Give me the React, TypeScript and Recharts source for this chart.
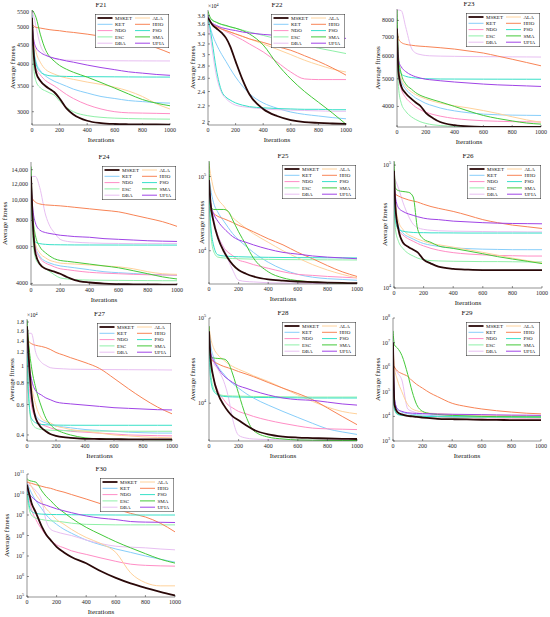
import React from "react";
import { LineChart, Line, XAxis, YAxis, Legend, Label } from "recharts";

const FONT = "Liberation Serif";
const AXIS = "#262626";

// iteration samples shared by every panel
const ITER = [0, 10, 30, 60, 100, 130, 160, 200, 250, 300, 400, 500, 600, 700, 800, 900, 1000];
const X_TICKS = [0, 200, 400, 600, 800, 1000];

const ALGOS = [
  { key: "MSKET", color: "#2a0808", width: 1.8 },
  { key: "KET", color: "#87cefa", width: 1 },
  { key: "NDO", color: "#ff8ec6", width: 1 },
  { key: "ESC", color: "#90f0a8", width: 1 },
  { key: "DBA", color: "#e8bff2", width: 1 },
  { key: "ALA", color: "#ffd29b", width: 1 },
  { key: "HHO", color: "#f88456", width: 1 },
  { key: "PSO", color: "#38e0c8", width: 1 },
  { key: "SMA", color: "#44c93a", width: 1 },
  { key: "UFIA", color: "#a044e6", width: 1 },
];

const F21 = {
  MSKET: [5300, 4400, 3800, 3620, 3500, 3440, 3380, 3250, 3060, 2950, 2840, 2800, 2785, 2780, 2778, 2776, 2775],
  KET: [5400, 4500, 4050, 3850, 3720, 3660, 3610, 3560, 3500, 3440, 3360, 3290, 3250, 3210, 3190, 3170, 3160],
  NDO: [5300, 4300, 3900, 3750, 3620, 3560, 3510, 3430, 3330, 3250, 3130, 3050, 3000, 2980, 2975, 2970, 2965],
  ESC: [5200, 4000, 3600, 3470, 3400, 3360, 3320, 3200, 3080, 3000, 2930, 2900, 2885, 2878, 2873, 2870, 2868],
  DBA: [5500, 5400, 5000, 4500, 4250, 4180, 4140, 4110, 4100, 4095, 4090, 4088, 4085, 4083, 4082, 4081, 4080],
  ALA: [5300, 4700, 4300, 4050, 3870, 3810, 3770, 3720, 3680, 3650, 3590, 3540, 3480, 3400, 3290, 3150, 3050],
  HHO: [5100, 5050, 5000, 4980, 4950, 4930, 4915, 4900, 4870, 4850, 4800, 4740, 4680, 4610, 4530, 4420, 4280],
  PSO: [5200, 4500, 4000, 3820, 3750, 3730, 3722, 3720, 3715, 3712, 3710, 3708, 3706, 3704, 3702, 3701, 3700],
  SMA: [5560, 5500, 5300, 4800, 4350, 4180, 4080, 3970, 3880, 3810, 3700, 3580, 3460, 3340, 3230, 3160, 3110],
  UFIA: [5300, 4700, 4420, 4300, 4220, 4180, 4150, 4120, 4080, 4050, 3980, 3920, 3870, 3820, 3790, 3760, 3740],
};

const F22 = {
  MSKET: [37500, 37000, 36000, 35200, 34200, 33200, 31600, 28800, 25800, 23600, 21600, 20700, 20200, 19950, 19850, 19780, 19720],
  KET: [37000, 36000, 34000, 32000, 30000, 28800, 27600, 26200, 24800, 23700, 22400, 21700, 21200, 20900, 20700, 20500, 20350],
  NDO: [37000, 36500, 36000, 35500, 35000, 34500, 34100, 33500, 32800, 32000, 30500, 28700, 27000, 25900, 25800, 25800, 25800],
  ESC: [38000, 37500, 37000, 36500, 36000, 35700, 35500, 35200, 34800, 34400, 33700, 33000, 32400, 31800, 31200, 30700, 30200],
  DBA: [37000, 35000, 31000, 26500, 23800, 23000, 22500, 22100, 21900, 21800, 21600, 21500, 21450, 21400, 21350, 21300, 21300],
  ALA: [37000, 36500, 36000, 35500, 35000, 34700, 34400, 34000, 33500, 33000, 32000, 31000, 30000, 29000, 28200, 27500, 27000],
  HHO: [37500, 37000, 36200, 35600, 35000, 34700, 34400, 34000, 33500, 33000, 32300, 31500, 30800, 29800, 28800, 27700, 26500],
  PSO: [37500, 36000, 32500, 27500, 24000, 23200, 22800, 22400, 22100, 21900, 21750, 21650, 21600, 21550, 21550, 21500, 21500],
  SMA: [39000, 38000, 37000, 36500, 36000, 35800, 35500, 35200, 34700, 34000, 31800, 28400, 25900, 24000, 22500, 21100, 19700],
  UFIA: [38000, 37000, 36300, 35800, 35300, 35100, 34900, 34700, 34400, 34200, 33900, 33700, 33500, 33400, 33300, 33200, 33100],
};

const F23 = {
  MSKET: [7500, 5300, 4700, 4450, 4250, 4130, 4030, 3800, 3640, 3530, 3440, 3405, 3395, 3392, 3390, 3390, 3390],
  KET: [7000, 5400, 4900, 4600, 4400, 4280, 4200, 4100, 4020, 3950, 3860, 3800, 3760, 3740, 3730, 3725, 3720],
  NDO: [7000, 5100, 4600, 4300, 4100, 3980, 3900, 3820, 3750, 3700, 3630, 3590, 3565, 3550, 3540, 3535, 3530],
  ESC: [6500, 4700, 4100, 3850, 3680, 3600, 3540, 3490, 3450, 3430, 3410, 3400, 3395, 3393, 3392, 3391, 3390],
  DBA: [8700, 8700, 8650, 7600, 6400, 6150, 6080, 6030, 6010, 6000, 5990, 5980, 5975, 5970, 5965, 5960, 5955],
  ALA: [7000, 5500, 5000, 4700, 4500, 4400, 4330, 4250, 4170, 4110, 4020, 3950, 3870, 3780, 3680, 3590, 3520],
  HHO: [7600, 6900, 6700, 6600, 6550, 6520, 6500, 6480, 6450, 6420, 6350, 6250, 6150, 6000, 5850, 5700, 5550],
  PSO: [7000, 5600, 5200, 5100, 5050, 5030, 5015, 5000, 4995, 4990, 4988, 4986, 4984, 4983, 4982, 4981, 4980],
  SMA: [8700, 6000, 5200, 4800, 4600, 4470, 4380, 4300, 4220, 4150, 4000, 3850, 3720, 3630, 3560, 3500, 3470],
  UFIA: [7500, 5800, 5500, 5300, 5150, 5080, 5030, 4980, 4950, 4920, 4870, 4830, 4790, 4760, 4740, 4720, 4700],
};

const F24 = {
  MSKET: [13000, 8500, 5600, 4950, 4700, 4620, 4550, 4450, 4280, 4150, 4040, 3990, 3970, 3960, 3955, 3950, 3950],
  KET: [12000, 8000, 6000, 5400, 5100, 5000, 4920, 4850, 4800, 4750, 4650, 4550, 4500, 4460, 4420, 4400, 4380],
  NDO: [12000, 7800, 5900, 5300, 5000, 4900, 4800, 4700, 4650, 4600, 4520, 4480, 4450, 4420, 4400, 4390, 4380],
  ESC: [11000, 7000, 5300, 4900, 4700, 4550, 4400, 4250, 4200, 4170, 4150, 4140, 4135, 4130, 4125, 4120, 4120],
  DBA: [13000, 13000, 13000, 11500, 8500, 7500, 7000, 6500, 6350, 6300, 6250, 6220, 6210, 6200, 6200, 6200, 6200],
  ALA: [12000, 8500, 6200, 5600, 5300, 5150, 5080, 5000, 4970, 4950, 4900, 4850, 4800, 4700, 4550, 4450, 4420],
  HHO: [11000, 10200, 9800, 9600, 9500, 9470, 9440, 9400, 9330, 9250, 9100, 8950, 8800, 8500, 8200, 7900, 7500],
  PSO: [12000, 8000, 6300, 6200, 6150, 6130, 6125, 6120, 6115, 6110, 6108, 6106, 6104, 6103, 6102, 6101, 6100],
  SMA: [14500, 9000, 6800, 6000, 5600, 5400, 5250, 5150, 5100, 5050, 4950, 4850, 4750, 4600, 4450, 4300, 4200],
  UFIA: [13000, 9500, 7800, 7200, 7000, 6930, 6870, 6800, 6750, 6700, 6650, 6550, 6500, 6450, 6400, 6370, 6350],
};

const F25 = {
  MSKET: [90000, 45000, 25000, 15000, 9800, 7800, 6500, 5500, 4900, 4500, 4100, 3950, 3850, 3780, 3720, 3680, 3650],
  KET: [100000, 70000, 45000, 33000, 25000, 20500, 17000, 14000, 11500, 9500, 7000, 5600, 4800, 4400, 4200, 4100, 4000],
  NDO: [80000, 40000, 25000, 16000, 11000, 9500, 8600, 7500, 7000, 6500, 5800, 5200, 4800, 4650, 4500, 4400, 4300],
  ESC: [60000, 20000, 10000, 8200, 8000, 7900, 7850, 7800, 7750, 7700, 7650, 7600, 7580, 7560, 7540, 7520, 7500],
  DBA: [100000, 50000, 28000, 16000, 11000, 7500, 5500, 4000, 3850, 3800, 3700, 3670, 3650, 3630, 3620, 3610, 3600],
  ALA: [150000, 110000, 70000, 50000, 40000, 33000, 28000, 24000, 20000, 17000, 13000, 10000, 8000, 6500, 5500, 4800, 4300],
  HHO: [40000, 35000, 32000, 29000, 27000, 25500, 24000, 22000, 20000, 18000, 14500, 12000, 9500, 7800, 6300, 5200, 4500],
  PSO: [70000, 25000, 12000, 8800, 8500, 8400, 8350, 8300, 8250, 8200, 8150, 8100, 8080, 8060, 8040, 8020, 8000],
  SMA: [160000, 40000, 36000, 36000, 36000, 34000, 26000, 18000, 12000, 8000, 5200, 4300, 3950, 3800, 3700, 3650, 3600],
  UFIA: [90000, 45000, 32000, 25000, 20000, 17500, 15500, 14000, 13000, 12000, 10500, 9500, 9000, 8500, 8200, 8000, 7800],
};

const F26 = {
  MSKET: [90000, 45000, 30000, 23500, 21500, 20500, 19500, 17000, 15800, 14900, 14300, 14100, 14000, 14000, 14000, 14000, 14000],
  KET: [80000, 45000, 32000, 28000, 26000, 25000, 24000, 23000, 22300, 21800, 21200, 20900, 20700, 20600, 20500, 20500, 20500],
  NDO: [70000, 40000, 30000, 27000, 25000, 24000, 23000, 22000, 21000, 20300, 19400, 18900, 18600, 18400, 18300, 18200, 18200],
  ESC: [50000, 30000, 24000, 21000, 19000, 18200, 17500, 17000, 16700, 16600, 16500, 16450, 16400, 16400, 16350, 16300, 16300],
  DBA: [80000, 75000, 65000, 50000, 38000, 33000, 31000, 30000, 29500, 29200, 29000, 28900, 28800, 28700, 28700, 28600, 28600],
  ALA: [80000, 50000, 35000, 30000, 27000, 26000, 25000, 24000, 23000, 22500, 21500, 20500, 19500, 18500, 17500, 16700, 16000],
  HHO: [60000, 58000, 56000, 54000, 52000, 51000, 50000, 48000, 46000, 44500, 42000, 39000, 36000, 34000, 32500, 31500, 30500],
  PSO: [70000, 35000, 30000, 29000, 28500, 28300, 28200, 28200, 28100, 28100, 28050, 28000, 28000, 28000, 28000, 28000, 28000],
  SMA: [107000, 65000, 62000, 61000, 60000, 55000, 30000, 25000, 23500, 22000, 21000, 20000, 19000, 18000, 17200, 16500, 15800],
  UFIA: [80000, 55000, 45000, 42000, 40000, 39000, 38000, 37000, 36300, 36000, 35000, 34500, 34000, 33700, 33500, 33400, 33300],
};

const F27 = {
  MSKET: [17000, 12000, 7000, 5000, 4400, 4200, 4050, 3950, 3880, 3850, 3800, 3790, 3780, 3775, 3770, 3770, 3770],
  KET: [16000, 10000, 6500, 5200, 4800, 4700, 4600, 4500, 4450, 4400, 4300, 4250, 4200, 4150, 4120, 4100, 4100],
  NDO: [16000, 9500, 6000, 5000, 4600, 4500, 4400, 4300, 4250, 4200, 4150, 4100, 4050, 4000, 3980, 3960, 3950],
  ESC: [15000, 7000, 4800, 4400, 4300, 4280, 4260, 4250, 4240, 4230, 4220, 4210, 4205, 4200, 4200, 4200, 4200],
  DBA: [15500, 15500, 15500, 12000, 10500, 10100, 9800, 9700, 9650, 9600, 9580, 9560, 9550, 9540, 9530, 9520, 9500],
  ALA: [17000, 12000, 8000, 6000, 5000, 4800, 4700, 4500, 4400, 4300, 4200, 4100, 4000, 3950, 3900, 3870, 3850],
  HHO: [15000, 14000, 13500, 13200, 13000, 12800, 12500, 12000, 11600, 11200, 10500, 9700, 8500, 7400, 6500, 5800, 5300],
  PSO: [15000, 7000, 5000, 4700, 4600, 4580, 4570, 4560, 4555, 4552, 4550, 4550, 4550, 4550, 4550, 4550, 4550],
  SMA: [18500, 14000, 10000, 7500, 5800, 5000, 4600, 4300, 4120, 4000, 3850, 3800, 3780, 3770, 3760, 3755, 3750],
  UFIA: [16000, 11000, 8500, 7200, 6800, 6550, 6400, 6200, 6100, 6050, 5950, 5850, 5750, 5700, 5650, 5600, 5580],
};

const F28 = {
  MSKET: [70000, 35000, 20000, 13000, 9500, 8000, 7000, 6300, 5500, 4900, 4300, 4050, 3950, 3900, 3850, 3820, 3800],
  KET: [80000, 50000, 35000, 27000, 22000, 19000, 17000, 15000, 13000, 11500, 9500, 8000, 6800, 5800, 5000, 4600, 4300],
  NDO: [60000, 30000, 20000, 14000, 11000, 9500, 8800, 8000, 7500, 7000, 6300, 5800, 5400, 5100, 5000, 4950, 4900],
  ESC: [80000, 25000, 15000, 12800, 12300, 12200, 12150, 12100, 12050, 12000, 11950, 11900, 11850, 11800, 11800, 11800, 11800],
  DBA: [70000, 40000, 30000, 25000, 18000, 12000, 6500, 4200, 3900, 3800, 3750, 3730, 3720, 3710, 3700, 3700, 3700],
  ALA: [80000, 60000, 45000, 37000, 32000, 29000, 27000, 25000, 23000, 21000, 18000, 15000, 12500, 10500, 9000, 8000, 7500],
  HHO: [35000, 33000, 31000, 29000, 27000, 26000, 25000, 23500, 22000, 20500, 17500, 15000, 13000, 11000, 8800, 7000, 5600],
  PSO: [60000, 20000, 14000, 12500, 12000, 11900, 11850, 11800, 11750, 11700, 11650, 11600, 11550, 11500, 11500, 11500, 11500],
  SMA: [80000, 36000, 34000, 33500, 33000, 30000, 22000, 13000, 7000, 4800, 4000, 3800, 3700, 3680, 3660, 3650, 3650],
  UFIA: [60000, 40000, 32000, 26000, 21000, 19000, 17500, 16000, 15000, 14000, 12500, 11500, 11000, 10800, 10300, 9800, 9500],
};

const F29 = {
  MSKET: [1e7, 3e4, 1.5e4, 1.2e4, 1.05e4, 1e4, 9500, 9000, 8500, 8000, 7700, 7500, 7300, 7200, 7100, 7050, 7000],
  KET: [8e6, 5e4, 2e4, 1.5e4, 1.3e4, 1.22e4, 1.18e4, 1.15e4, 1.1e4, 1.05e4, 1e4, 9800, 9500, 9300, 9200, 9100, 9000],
  NDO: [6e6, 3e4, 1.5e4, 1.2e4, 1.1e4, 1.05e4, 1.02e4, 1e4, 9700, 9500, 9000, 8800, 8700, 8600, 8550, 8500, 8500],
  ESC: [3e6, 2e4, 1.3e4, 1.15e4, 1.1e4, 1.07e4, 1.04e4, 1e4, 9800, 9700, 9500, 9300, 9200, 9100, 9050, 9000, 9000],
  DBA: [5e6, 1e6, 6e5, 3e5, 2e4, 1.6e4, 1.4e4, 1.3e4, 1.2e4, 1.15e4, 1.1e4, 1.07e4, 1.05e4, 1.03e4, 1.02e4, 1.01e4, 1e4],
  ALA: [8e6, 1e6, 3e5, 1e5, 3e4, 2e4, 1.7e4, 1.5e4, 1.35e4, 1.3e4, 1.2e4, 1.15e4, 1.12e4, 1.1e4, 1.08e4, 1.06e4, 1.05e4],
  HHO: [1.3e6, 1e6, 7e5, 5.5e5, 4.2e5, 2.8e5, 2e5, 1.4e5, 9e4, 6.4e4, 3.4e4, 2.5e4, 2e4, 1.7e4, 1.5e4, 1.35e4, 1.27e4],
  PSO: [2e6, 2e4, 1.2e4, 1.1e4, 1.05e4, 1.03e4, 1.02e4, 1e4, 9900, 9800, 9700, 9650, 9600, 9580, 9550, 9520, 9500],
  SMA: [3e7, 8e6, 6e6, 3e6, 5e5, 1e5, 3e4, 1.6e4, 1.3e4, 1.2e4, 1.1e4, 1.05e4, 1e4, 9800, 9700, 9600, 9500],
  UFIA: [1e7, 5e4, 2e4, 1.6e4, 1.4e4, 1.35e4, 1.32e4, 1.3e4, 1.28e4, 1.25e4, 1.22e4, 1.2e4, 1.18e4, 1.15e4, 1.13e4, 1.12e4, 1.1e4],
};

const F30 = {
  MSKET: [3e10, 1.5e10, 4e9, 1.3e9, 2.7e8, 1.1e8, 6e7, 2.8e7, 1.5e7, 9e6, 4.4e6, 1.8e6, 8.5e5, 4.6e5, 2.8e5, 1.8e5, 1.2e5],
  KET: [4e10, 2.5e10, 1.2e10, 5e9, 2e9, 1e9, 6e8, 3.5e8, 2e8, 1.3e8, 6e7, 3.5e7, 2.2e7, 1.5e7, 1e7, 7e6, 5e6],
  NDO: [3e10, 1e10, 2e9, 6e8, 2e8, 1e8, 6e7, 3.5e7, 2.5e7, 1.8e7, 1.2e7, 8e6, 5.5e6, 4e6, 3.5e6, 3.3e6, 3.2e6],
  ESC: [2e10, 3e9, 1e9, 7e8, 6e8, 5.5e8, 5.2e8, 5e8, 4.5e8, 4e8, 3.5e8, 3.4e8, 3.3e8, 3.3e8, 3.3e8, 3.3e8, 3.3e8],
  DBA: [4e10, 3e10, 2.5e10, 1.5e10, 5e9, 5e8, 2e8, 1.5e8, 1.2e8, 1e8, 6e7, 4e7, 3e7, 2.7e7, 2.5e7, 2.2e7, 2e7],
  ALA: [5e10, 4e10, 2.5e10, 1e10, 4e9, 2e9, 1.2e9, 6e8, 3.5e8, 2e8, 8e7, 4e7, 1.5e7, 1.5e6, 5e5, 3.5e5, 3.5e5],
  HHO: [4e10, 3.8e10, 3.5e10, 3e10, 2.5e10, 2.2e10, 2e10, 1.6e10, 1.3e10, 1e10, 6e9, 3.5e9, 2e9, 1.2e9, 8e8, 4e8, 1.5e8],
  PSO: [3e10, 5e9, 1.5e9, 1.2e9, 1.1e9, 1.08e9, 1.06e9, 1.05e9, 1.04e9, 1.03e9, 1.02e9, 1.01e9, 1e9, 1e9, 1e9, 1e9, 1e9],
  SMA: [6e10, 5e10, 4.5e10, 4e10, 1.5e10, 8e9, 5e9, 2.5e9, 1.3e9, 7e8, 2.5e8, 1.1e8, 5e7, 2.5e7, 1.3e7, 7e6, 4.5e6],
  UFIA: [2e10, 1.2e10, 8e9, 5e9, 3.5e9, 3e9, 2.5e9, 2e9, 1.6e9, 1.3e9, 9e8, 7e8, 6e8, 4.8e8, 4.5e8, 4.4e8, 4.3e8],
};

const TICKS_F21 = [3000, 3500, 4000, 4500, 5000, 5500];
const TICKS_F22 = [20000, 22000, 24000, 26000, 28000, 30000, 32000, 34000, 36000, 38000];
const TICKS_F23 = [4000, 5000, 6000, 7000, 8000];
const TICKS_F24 = [4000, 6000, 8000, 10000, 12000, 14000];
const TICKS_F27 = [4000, 6000, 8000, 10000, 12000, 14000, 16000, 18000];
const TICKS_DEC4_5 = [1e4, 1e5];
const TICKS_F29 = [1e3, 1e4, 1e5, 1e6, 1e7, 1e8];
const TICKS_F30 = [1e5, 1e6, 1e7, 1e8, 1e9, 1e10, 1e11];

type Fmt = "plain" | "comma" | "e4" | "pow";

const PANELS = [
  { title: "F21", s: F21, box: [32, 10, 170, 125], domain: [2768, 5556], ticks: TICKS_F21, fmt: "plain", ylab: 13 },
  { title: "F22", s: F22, box: [208, 10, 346, 125], domain: [19600, 39300], ticks: TICKS_F22, fmt: "e4", ylab: 193 },
  { title: "F23", s: F23, box: [397, 9, 541, 127], domain: [3390, 8770], ticks: TICKS_F23, fmt: "plain", ylab: 378 },
  { title: "F24", s: F24, box: [31, 162, 177, 285], domain: [3930, 15240], ticks: TICKS_F24, fmt: "comma", ylab: 5 },
  { title: "F25", s: F25, box: [209, 161, 357, 284], domain: [3560, 162000], ticks: TICKS_DEC4_5, fmt: "pow", ylab: 202 },
  { title: "F26", s: F26, box: [394, 161, 542, 288], domain: [10000, 108000], ticks: TICKS_DEC4_5, fmt: "pow", ylab: 385 },
  { title: "F27", s: F27, box: [27, 319, 172, 441], domain: [3690, 18740], ticks: TICKS_F27, fmt: "e4", ylab: 12 },
  { title: "F28", s: F28, box: [209, 318, 357, 441], domain: [3600, 100000], ticks: TICKS_DEC4_5, fmt: "pow", ylab: 193 },
  { title: "F29", s: F29, box: [393, 318, 541, 441], domain: [1e3, 1e8], ticks: TICKS_F29, fmt: "pow", ylab: 378 },
  { title: "F30", s: F30, box: [27, 474, 175, 597], domain: [1e5, 1e11], ticks: TICKS_F30, fmt: "pow", ylab: 7 },
];

const LEFT_PAD = 40;
const RIGHT_PAD = 12;
const TOP_PAD = 12;
const BOTTOM_PAD = 25;

const YTick = ({ x, y, payload, fmt }: any) => {
  const v = payload.value;
  const common = { x, y, dy: 2, textAnchor: "end" as const, fontSize: 6, fontFamily: FONT, fill: AXIS };
  if (fmt === "pow") {
    const e = Math.round(Math.log10(v));
    return (
      <text {...common}>
        10<tspan dy={-3} fontSize={4.2}>{e}</tspan>
      </text>
    );
  }
  let label = String(v);
  if (fmt === "e4") label = String(Number((v / 1e4).toFixed(2)));
  if (fmt === "comma" && v >= 10000) label = v.toLocaleString("en-US");
  return <text {...common}>{label}</text>;
};

const LegendBox = () => {
  const rowH = 6.3;
  return (
    <svg width={74} height={34} style={{ display: "block" }}>
      <rect x={0.25} y={0.25} width={73.5} height={33.5} fill="#fff" stroke={AXIS} strokeWidth={0.5} />
      {ALGOS.map((a, i) => {
        const col = i < 5 ? 0 : 1;
        const row = i % 5;
        const y = 4 + row * rowH;
        const lx = col === 0 ? 2.5 : 40;
        return (
          <g key={a.key}>
            <line x1={lx} x2={lx + 15} y1={y} y2={y} stroke={a.color} strokeWidth={a.width} />
            <text x={lx + 17.5} y={y + 1.7} fontSize={5} fontFamily={FONT} fill="#111">
              {a.key}
            </text>
          </g>
        );
      })}
    </svg>
  );
};

function Panel({ p }: { p: any }) {
  const [L, T, R, B] = p.box;
  const pw = R - L;
  const ph = B - T;
  const w = pw + LEFT_PAD + RIGHT_PAD;
  const h = ph + TOP_PAD + BOTTOM_PAD;
  const cx = LEFT_PAD + pw / 2;
  const rows = ITER.map((it, i) => {
    const r: any = { it };
    ALGOS.forEach((a) => (r[a.key] = p.s[a.key][i]));
    return r;
  });
  const drawOrder = [...ALGOS.slice(1), ALGOS[0]];
  const fmt: Fmt = p.fmt;
  const ylx = p.ylab - (L - LEFT_PAD);
  const yly = TOP_PAD + ph / 2;

  const decorations = () => (
    <g fontFamily={FONT} fill="#111">
      <text x={cx} y={TOP_PAD - 3} textAnchor="middle" fontSize={7}>{p.title}</text>
      <text x={cx} y={TOP_PAD + ph + 17} textAnchor="middle" fontSize={7}>Iterations</text>
      <text
        x={ylx}
        y={yly}
        textAnchor="middle"
        dominantBaseline="central"
        fontSize={7}
        transform={`rotate(-90 ${ylx} ${yly})`}
      >
        Average fitness
      </text>
      {fmt === "e4" && (
        <text x={LEFT_PAD} y={TOP_PAD - 2} fontSize={5.5}>
          ×10<tspan dy={-2.5} fontSize={4}>4</tspan>
        </text>
      )}
    </g>
  );

  return (
    <div style={{ position: "absolute", left: L - LEFT_PAD, top: T - TOP_PAD }}>
      <LineChart width={w} height={h} data={rows} margin={{ top: TOP_PAD, right: RIGHT_PAD, bottom: 0, left: 0 }}>
        <XAxis
          xAxisId="b"
          dataKey="it"
          type="number"
          domain={[0, 1000]}
          ticks={X_TICKS}
          interval={0}
          height={BOTTOM_PAD}
          tickSize={-2}
          tickMargin={5}
          stroke={AXIS}
          strokeWidth={0.5}
          tick={{ fontSize: 6, fontFamily: FONT, fill: AXIS }}
          allowDataOverflow
        >
          <Label content={decorations} />
        </XAxis>
        <XAxis
          xAxisId="t"
          orientation="top"
          dataKey="it"
          type="number"
          domain={[0, 1000]}
          ticks={X_TICKS}
          interval={0}
          height={0}
          tickSize={-2}
          tick={false}
          stroke={AXIS}
          strokeWidth={0.5}
          allowDataOverflow
        />
        <YAxis
          yAxisId="l"
          scale="log"
          type="number"
          domain={p.domain}
          ticks={p.ticks}
          interval={0}
          width={LEFT_PAD}
          tickSize={-2}
          tickMargin={5}
          stroke={AXIS}
          strokeWidth={0.5}
          tick={(props: any) => <YTick {...props} fmt={fmt} />}
          allowDataOverflow
        />
        <YAxis
          yAxisId="r"
          orientation="right"
          scale="log"
          type="number"
          domain={p.domain}
          ticks={p.ticks}
          interval={0}
          width={0}
          tickSize={-2}
          tick={false}
          stroke={AXIS}
          strokeWidth={0.5}
          allowDataOverflow
        />
        {drawOrder.map((a) => (
          <Line
            key={a.key}
            xAxisId="b"
            yAxisId="l"
            dataKey={a.key}
            type="monotone"
            stroke={a.color}
            strokeWidth={a.width}
            dot={false}
            activeDot={false}
            isAnimationActive={false}
          />
        ))}
        <Legend
          layout="horizontal"
          verticalAlign="middle"
          align="center"
          wrapperStyle={{ left: LEFT_PAD + pw - 75, top: TOP_PAD + 4, width: 74, height: 34 }}
          content={() => <LegendBox />}
        />
      </LineChart>
    </div>
  );
}

export default function App() {
  return (
    <div style={{ position: "absolute", left: 0, top: 0, width: 550, height: 617, background: "#fff" }}>
      {PANELS.map((p) => (
        <Panel key={p.title} p={p} />
      ))}
    </div>
  );
}
